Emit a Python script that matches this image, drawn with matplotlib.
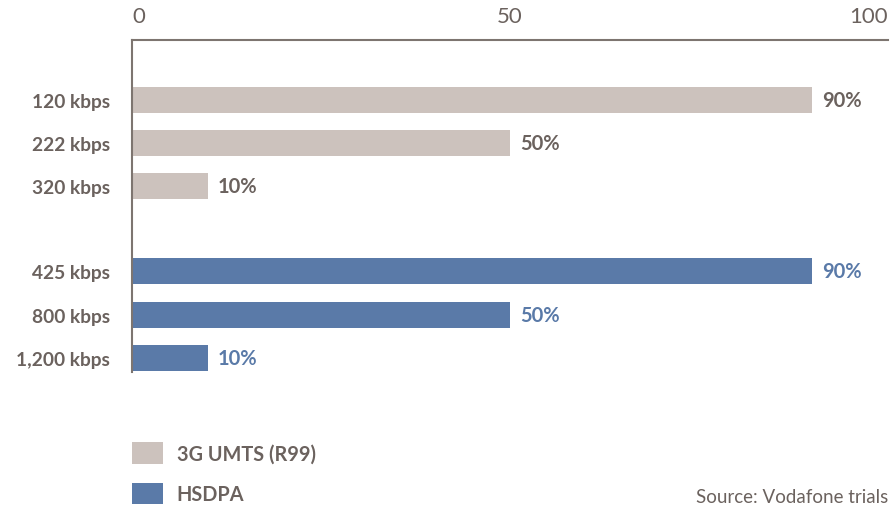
import matplotlib
matplotlib.use("Agg")
import matplotlib.pyplot as plt

# Data
categories = ["120 kbps", "222 kbps", "320 kbps", "425 kbps", "800 kbps", "1,200 kbps"]
series_names = ["3G UMTS (R99)", "HSDPA"]
umts_values = [90, 50, 10]
hsdpa_values = [90, 50, 10]
x_ticks = [0, 50, 100]
source_text = "Source: Vodafone trials"

gray = "#CCC2BD"
blue = "#5A7AA8"
text_gray = "#6B625E"
axis_col = "#7D7570"

plt.rcParams["font.family"] = ["Lato", "DejaVu Sans"]

fig = plt.figure(figsize=(8.92, 5.10), dpi=100)
ax = fig.add_axes([132/892, 1 - 373/510, (888-132)/892, (373-41)/510])

pos_umts = [0, 1, 2]
pos_hsdpa = [3.98, 5, 6]
h = 0.6

b1 = ax.barh(pos_umts, umts_values, height=h, color=gray, label=series_names[0])
b2 = ax.barh(pos_hsdpa, hsdpa_values, height=h, color=blue, label=series_names[1])

for p, v in zip(pos_umts, umts_values):
    ax.annotate(f"{v}%", (v, p), xytext=(7, 0), textcoords="offset points",
                va="center", ha="left", fontsize=14.5, fontweight="bold", color=text_gray)
for p, v in zip(pos_hsdpa, hsdpa_values):
    ax.annotate(f"{v}%", (v, p), xytext=(7, 0), textcoords="offset points",
                va="center", ha="left", fontsize=14.5, fontweight="bold", color=blue)

ax.set_xlim(0, 100)
ax.set_ylim(6.33, -1.395)
ax.set_yticks(pos_umts + pos_hsdpa)
ax.set_yticklabels(categories, fontsize=13.8, fontweight="bold", color=text_gray)
ax.xaxis.tick_top()
ax.set_xticks(x_ticks)
ax.set_xticklabels([str(t) for t in x_ticks], fontsize=16, fontweight="normal", color=text_gray)
xt = ax.get_xticklabels()
xt[0].set_ha("left")
xt[-1].set_ha("right")
ax.tick_params(axis="both", length=0)
ax.tick_params(axis="x", pad=10)
ax.tick_params(axis="y", pad=16)
for s in ["right", "bottom"]:
    ax.spines[s].set_visible(False)
for s in ["top", "left"]:
    ax.spines[s].set_color(axis_col)
    ax.spines[s].set_linewidth(1.5)

leg = fig.legend(handles=[b1, b2], labels=series_names, loc="upper left",
                 bbox_to_anchor=(132/892, 1 - 443/510), frameon=False,
                 fontsize=14.3, handlelength=1.55, handleheight=1.3,
                 labelspacing=0.95, handletextpad=0.7, borderpad=0, borderaxespad=0)
for t in leg.get_texts():
    t.set_color(text_gray)
    t.set_fontweight("bold")

fig.text(888/892, 1 - 498/510, source_text, ha="right", va="center",
         fontsize=13.5, fontweight="normal", color=text_gray)

fig.savefig("out.png", dpi=100)
